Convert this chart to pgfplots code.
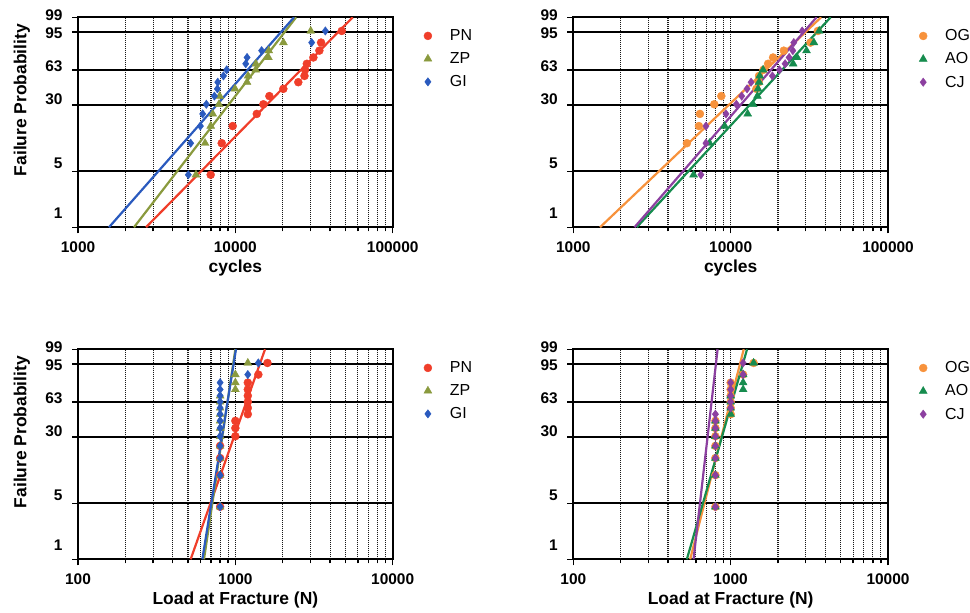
\documentclass[border=0pt]{standalone}
\usepackage{pgfplots}
\pgfplotsset{compat=1.18}
\usepackage{fontspec}
\setmainfont{Liberation Sans}

\definecolor{cPN}{RGB}{240,62,42}
\definecolor{cZP}{RGB}{138,154,62}
\definecolor{cGI}{RGB}{42,90,190}
\definecolor{cOG}{RGB}{247,146,60}
\definecolor{cAO}{RGB}{22,140,78}
\definecolor{cCJ}{RGB}{140,64,160}

\newcommand\tickfont{\fontsize{15.5}{18}\selectfont\bfseries}
\newcommand\labfont{\fontsize{17.5}{20}\selectfont\bfseries}
\newcommand\legfont{\fontsize{16}{18}\selectfont}
% Weibull probability paper: y = ln(-ln(1-p))
\newcommand\wb{ln(-ln(1-\thisrow{p}/100))}

\pgfplotsset{
  wblaxis/.style={
    scale only axis, width=314.7bp, height=210bp,
    ymin=-4.60015, ymax=1.52718,
    ytick={-4.60015,-2.97020,-1.03093,-0.005764,1.09719,1.52718},
    yticklabels={\raisebox{14.6bp}{1},\raisebox{8.5bp}{5},\raisebox{5.5bp}{30},\raisebox{3.5bp}{63},\raisebox{-1.2bp}{95},\raisebox{2.3bp}{99}},
    yticklabel style={anchor=base east, yshift=-5.5bp, xshift=-6bp, font=\tickfont},
    xticklabel style={font=\tickfont, yshift=-5bp},
    xmajorgrids, xminorgrids, ymajorgrids,
    grid style={black!90, dash pattern=on 1bp off 1bp, line width=1.1bp},
    extra y ticks={-2.97020,-1.03093,-0.005764,1.09719},
    extra y tick labels={},
    extra y tick style={grid=major, major grid style={black, solid, line width=2bp}},
    axis line style={line width=2bp},
    tick style={black, line width=1.5bp},
    tick align=outside, major tick length=6bp, minor tick length=4bp,
    xtick pos=bottom, ytick pos=left,
    label style={font=\labfont},
    xlabel style={at={(axis description cs:0.5,-0.195)}, anchor=center},
    ylabel style={at={(axis description cs:-0.178,0.606)}, anchor=center},
    legend style={draw=none, fill=none, at={(axis description cs:1.089,0.961)},
      anchor=north west, font=\legfont, row sep=6.5bp,
      /tikz/every odd column/.append style={column sep=16bp}},
    legend cell align=left,
  },
  pPN/.style={only marks, mark=*, mark size=4bp, color=cPN},
  pZP/.style={only marks, mark=triangle*, mark size=4.6bp, color=cZP},
  pGI/.style={only marks, mark=diamond*, mark size=4.2bp, color=cGI},
  pOG/.style={only marks, mark=*, mark size=4bp, color=cOG},
  pAO/.style={only marks, mark=triangle*, mark size=4.6bp, color=cAO},
  pCJ/.style={only marks, mark=diamond*, mark size=4.2bp, color=cCJ},
  wbline/.style={no marks, line width=2.2bp},
}

\begin{document}
\begin{tikzpicture}
\useasboundingbox (0,0) rectangle (970bp,-613bp);

% ---------- top left: cycles ----------
\begin{semilogxaxis}[wblaxis, at={(78bp,-17.3bp)}, anchor=north west,
  xmin=1000, xmax=100000,
  xtick={1000,10000,100000}, xticklabels={1000,10000,100000},
  minor xtick={2000,3000,4000,5000,6000,7000,8000,9000,20000,30000,40000,50000,60000,70000,80000,90000},
  xlabel={cycles}, ylabel={Failure Probability}]
\addplot[pPN] table[y expr=\wb] {
x p
6970 4.545
8190 11.039
9620 17.532
13680 24.026
15070 30.519
16450 37.013
20180 43.506
25120 50.000
27500 56.494
27740 62.987
28460 69.481
31330 75.974
34190 82.468
35060 88.961
47450 95.455
};
\addlegendentry{PN}
\addplot[wbline, cPN, forget plot] table[y expr=\wb] {
x p
2706 1
55700 99
};
\addplot[pZP] table[y expr=\wb] {
x p
5620 4.545
6420 11.039
6970 17.532
7180 24.026
7870 30.519
7950 37.013
9950 43.506
11860 50.000
12040 56.494
13470 62.987
13500 69.481
16220 75.974
16300 82.468
20200 88.961
30130 95.455
};
\addlegendentry{ZP}
\addplot[wbline, cZP, forget plot] table[y expr=\wb] {
x p
2270 1
24320 99
};
\addplot[pGI] table[y expr=\wb] {
x p
5025 4.545
5200 11.039
5995 17.532
6200 24.026
6540 30.519
7360 37.013
7690 43.506
7730 50.000
8400 56.494
8810 62.987
11640 69.481
11870 75.974
14690 82.468
30550 88.961
37330 95.455
};
\addlegendentry{GI}
\addplot[wbline, cGI, forget plot] table[y expr=\wb] {
x p
1574 1
23600 99
};
\end{semilogxaxis}

% ---------- top right: cycles ----------
\begin{semilogxaxis}[wblaxis, at={(573.3bp,-17.3bp)}, anchor=north west,
  xmin=1000, xmax=100000,
  xtick={1000,10000,100000}, xticklabels={1000,10000,100000},
  minor xtick={2000,3000,4000,5000,6000,7000,8000,9000,20000,30000,40000,50000,60000,70000,80000,90000},
  xlabel={cycles}]
\addplot[pOG] table[y expr=\wb] {
x p
5272 11.039
6285 17.532
6378 24.026
7870 30.519
8723 37.013
14570 43.506
15080 50.000
15150 56.494
16150 62.987
17290 69.481
18600 75.974
21760 82.468
32170 88.961
35820 95.455
};
\addlegendentry{OG}
\addplot[wbline, cOG, forget plot] table[y expr=\wb] {
x p
1479 1
37570 99
};
\addplot[pAO] table[y expr=\wb] {
x p
5812 4.545
7347 11.039
9158 17.532
12830 24.026
13880 30.519
14790 37.013
14930 43.506
15150 50.000
15300 56.494
16070 62.987
24950 69.481
26460 75.974
30340 82.468
33790 88.961
36530 95.455
};
\addlegendentry{AO}
\addplot[wbline, cAO, forget plot] table[y expr=\wb] {
x p
2530 1
43170 99
};
\addplot[pCJ] table[y expr=\wb] {
x p
6471 4.545
6965 11.039
6965 17.532
9340 24.026
10870 30.519
11750 37.013
12710 43.506
13480 50.000
18420 56.494
20420 62.987
22190 69.481
23530 75.974
24830 82.468
25190 88.961
28480 95.455
};
\addlegendentry{CJ}
\addplot[wbline, cCJ, forget plot] table[y expr=\wb] {
x p
2449 1
35150 99
};
\end{semilogxaxis}

% ---------- bottom left: load ----------
\begin{semilogxaxis}[wblaxis, at={(78bp,-349.3bp)}, anchor=north west,
  xmin=100, xmax=10000,
  xtick={100,1000,10000}, xticklabels={100,1000,10000},
  minor xtick={200,300,400,500,600,700,800,900,2000,3000,4000,5000,6000,7000,8000,9000},
  xlabel={Load at Fracture (N)}, ylabel={Failure Probability}]
\addplot[pPN] table[y expr=\wb] {
x p
800 4.545
800 11.039
800 17.532
800 24.026
1000 30.519
1000 37.013
1000 43.506
1200 50.000
1200 56.494
1200 62.987
1200 69.481
1200 75.974
1200 82.468
1400 88.961
1600 95.455
};
\addlegendentry{PN}
\addplot[wbline, cPN, forget plot] table[y expr=\wb] {
x p
520 1
1544 99
};
\addplot[pZP] table[y expr=\wb] {
x p
800 4.545
800 11.039
800 17.532
800 24.026
800 30.519
800 37.013
800 43.506
800 50.000
800 56.494
800 62.987
800 69.481
1000 75.974
1000 82.468
1000 88.961
1200 95.455
};
\addlegendentry{ZP}
\addplot[wbline, cZP, forget plot] table[y expr=\wb] {
x p
632 1
1000 99
};
\addplot[pGI] table[y expr=\wb] {
x p
800 4.545
800 11.039
800 17.532
800 24.026
800 30.519
800 37.013
800 43.506
800 50.000
800 56.494
800 62.987
800 69.481
800 75.974
800 82.468
1200 88.961
1400 95.455
};
\addlegendentry{GI}
\addplot[wbline, cGI, forget plot] table[y expr=\wb] {
x p
617 1
1009 99
};
\end{semilogxaxis}

% ---------- bottom right: load ----------
\begin{semilogxaxis}[wblaxis, at={(573.3bp,-349.3bp)}, anchor=north west,
  xmin=100, xmax=10000,
  xtick={100,1000,10000}, xticklabels={100,1000,10000},
  minor xtick={200,300,400,500,600,700,800,900,2000,3000,4000,5000,6000,7000,8000,9000},
  xlabel={Load at Fracture (N)}]
\addplot[pOG] table[y expr=\wb] {
x p
800 4.545
800 11.039
800 17.532
800 24.026
800 30.519
800 37.013
800 43.506
1000 50.000
1000 56.494
1000 62.987
1000 69.481
1000 75.974
1000 82.468
1200 88.961
1400 95.455
};
\addlegendentry{OG}
\addplot[wbline, cOG, forget plot] table[y expr=\wb] {
x p
553 1
1211 99
};
\addplot[pAO] table[y expr=\wb] {
x p
800 4.545
800 11.039
800 17.532
800 24.026
800 30.519
800 37.013
800 43.506
1000 50.000
1000 56.494
1000 62.987
1000 69.481
1200 75.974
1200 82.468
1200 88.961
1400 95.455
};
\addlegendentry{AO}
\addplot[wbline, cAO, forget plot] table[y expr=\wb] {
x p
527 1
1271 99
};
\addplot[pCJ] table[y expr=\wb] {
x p
800 4.545
800 11.039
800 17.532
800 24.026
800 30.519
800 37.013
800 43.506
800 50.000
1000 56.494
1000 62.987
1000 69.481
1000 75.974
1000 82.468
1200 88.961
1200 95.455
};
\addlegendentry{CJ}
\addplot[wbline, cCJ, forget plot] table[y expr=\wb] {
x p
581 1
826 99
};
\end{semilogxaxis}
\end{tikzpicture}
\end{document}
